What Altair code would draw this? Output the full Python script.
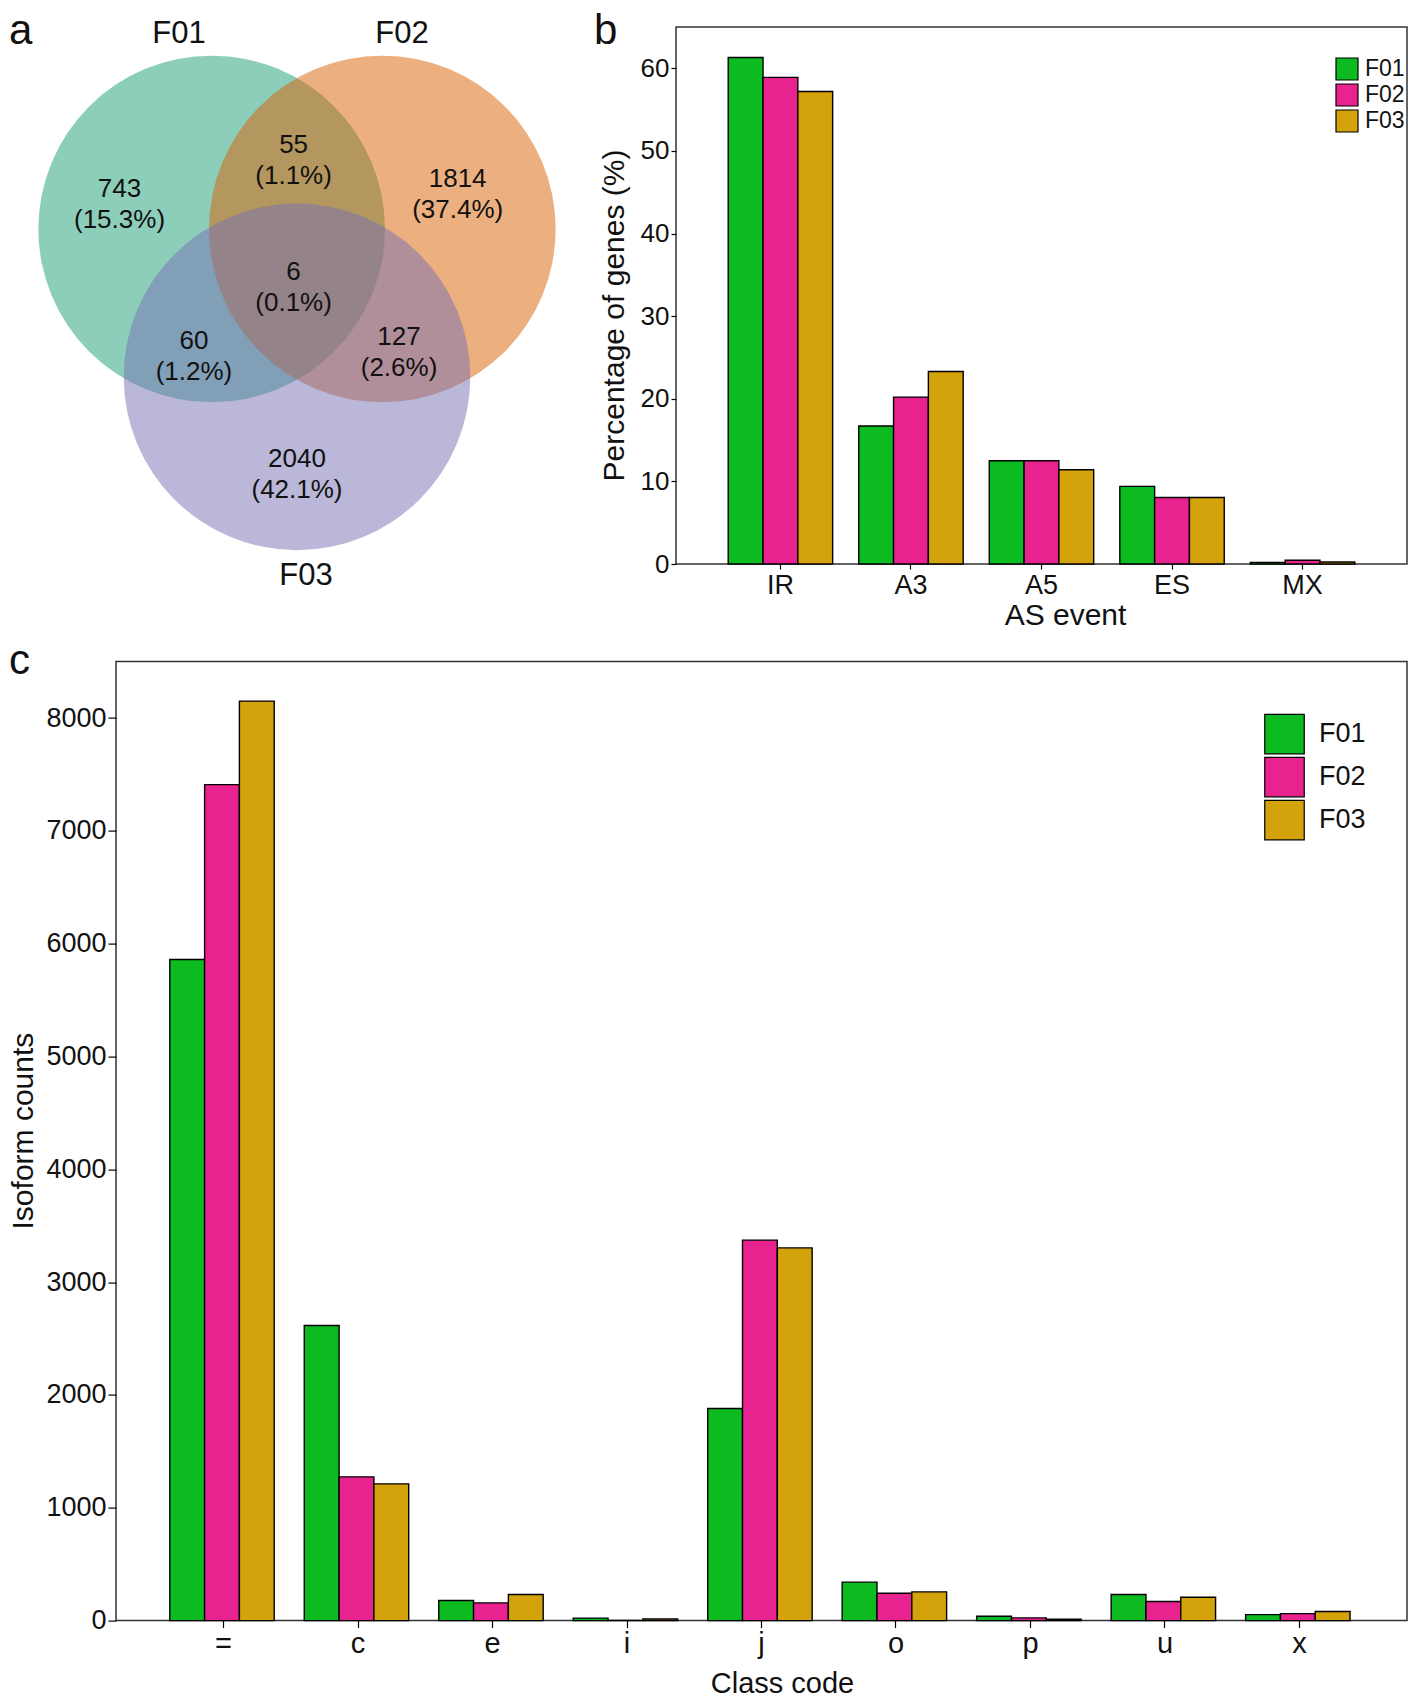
import altair as alt
import pandas as pd

FONT = "Liberation Sans"
INK = "#111111"

# ---------------- shared ----------------
samples = ["F01", "F02", "F03"]
sample_colors = ["#0bbb1f", "#e8238f", "#d4a20a"]

# ---------------- panel a (Venn) ----------------
venn_sets = ["F01", "F02", "F03"]
venn_colors = ["#1B9E77", "#D95F02", "#7570B3"]
venn_cx = [-0.502, 0.502, 0.0]
venn_cy = [0.0, 0.0, -0.87]
venn_name_x = [-0.694, 0.618, 0.053]
venn_name_y = [1.147, 1.147, -2.04]
region_counts = ["743", "55", "1814", "6", "60", "127", "2040"]
region_pct = ["(15.3%)", "(1.1%)", "(37.4%)", "(0.1%)", "(1.2%)", "(2.6%)", "(42.1%)"]
region_x = [-1.044, -0.02, 0.945, -0.02, -0.606, 0.60, 0.0]
region_y = [0.141, 0.40, 0.202, -0.347, -0.749, -0.724, -1.445]

# ---------------- panel b ----------------
as_events = ["IR", "A3", "A5", "ES", "MX"]
as_f01 = [61.3, 16.7, 12.5, 9.4, 0.2]
as_f02 = [58.9, 20.2, 12.5, 8.05, 0.45]
as_f03 = [57.2, 23.3, 11.4, 8.05, 0.25]

# ---------------- panel c ----------------
class_codes = ["=", "c", "e", "i", "j", "o", "p", "u", "x"]
cc_f01 = [5860, 2615, 178, 22, 1880, 341, 39, 231, 53]
cc_f02 = [7410, 1274, 157, 2, 3372, 243, 24, 169, 62]
cc_f03 = [8150, 1212, 231, 14, 3304, 255, 12, 207, 80]

# ---------------- build tables ----------------
venn_df = pd.DataFrame({"set": venn_sets, "cx": venn_cx, "cy": venn_cy,
                        "nx": venn_name_x, "ny": venn_name_y})
region_df = pd.DataFrame({"count": region_counts, "pct": region_pct,
                          "x": region_x, "y": region_y})

b_rows = []
for s, vals in zip(samples, [as_f01, as_f02, as_f03]):
    for e, v in zip(as_events, vals):
        b_rows.append({"event": e, "sample": s, "value": v})
b_df = pd.DataFrame(b_rows)

c_rows = []
for s, vals in zip(samples, [cc_f01, cc_f02, cc_f03]):
    for c, v in zip(class_codes, vals):
        c_rows.append({"code": c, "sample": s, "value": v})
c_df = pd.DataFrame(c_rows)

# ---------------- layout constants ----------------
VW, VH = 460, 537          # venn cell
BW, BH = 731, 537          # panel b plot
CW, CH = 1291, 959         # panel c plot
PX = 170.0                 # px per venn unit
R = 173.3                  # circle radius in px

vx0 = -1.0647
vy1 = 1.188
xs = alt.Scale(domain=[vx0, vx0 + VW / PX], nice=False, zero=False)
ys = alt.Scale(domain=[vy1 - VH / PX, vy1], nice=False, zero=False)

circles = alt.Chart(venn_df).mark_point(
    filled=True, shape="circle", opacity=0.5, strokeWidth=0, size=(2 * R) ** 2
).encode(
    x=alt.X("cx:Q", scale=xs, axis=None),
    y=alt.Y("cy:Q", scale=ys, axis=None),
    color=alt.Color("set:N", scale=alt.Scale(domain=venn_sets, range=venn_colors), legend=None),
)
count_txt = alt.Chart(region_df).mark_text(font=FONT, fontSize=26, dy=-15.5, color=INK).encode(
    x=alt.X("x:Q", scale=xs, axis=None), y=alt.Y("y:Q", scale=ys, axis=None), text="count:N")
pct_txt = alt.Chart(region_df).mark_text(font=FONT, fontSize=26, dy=15.5, color=INK).encode(
    x=alt.X("x:Q", scale=xs, axis=None), y=alt.Y("y:Q", scale=ys, axis=None), text="pct:N")
name_txt = alt.Chart(venn_df).mark_text(font=FONT, fontSize=31, color=INK).encode(
    x=alt.X("nx:Q", scale=xs, axis=None), y=alt.Y("ny:Q", scale=ys, axis=None), text="set:N")
letter_a = alt.Chart(pd.DataFrame({"t": ["a"]})).mark_text(
    font=FONT, fontSize=42, align="left", baseline="top", color=INK
).encode(x=alt.value(-107), y=alt.value(-16.4), text="t:N")

venn = alt.layer(circles, count_txt, pct_txt, name_txt, letter_a).properties(
    width=VW, height=VH, view=alt.ViewBackground(strokeOpacity=0))

# ---------------- panel b chart ----------------
bars_b = alt.Chart(b_df).mark_bar(stroke="black", strokeWidth=1.4).encode(
    x=alt.X("event:N", sort=as_events,
            scale=alt.Scale(paddingInner=0.2, paddingOuter=0.4),
            axis=alt.Axis(title="AS event", labelAngle=0, labelFontSize=27, labelPadding=3,
                          tickSize=5, tickWidth=1.2, titleFontSize=30, titlePadding=2,
                          titleX=389)),
    xOffset=alt.XOffset("sample:N", sort=samples),
    y=alt.Y("value:Q", scale=alt.Scale(domain=[0, 65], nice=False),
            axis=alt.Axis(title="Percentage of genes (%)", values=[0, 10, 20, 30, 40, 50, 60],
                          labelFontSize=26, labelPadding=2, tickSize=5, tickWidth=1.2,
                          titleFontSize=30, titlePadding=11, titleY=288)),
    color=alt.Color("sample:N", scale=alt.Scale(domain=samples, range=sample_colors),
                    legend=alt.Legend(orient="none", legendX=659, legendY=30, title=None,
                                      symbolType="square", symbolSize=484,
                                      symbolStrokeColor="black", symbolStrokeWidth=1.2,
                                      symbolOpacity=1, labelFontSize=23, labelOffset=6,
                                      rowPadding=-6, padding=0, labelFont=FONT,
                                      labelColor=INK)),
)
letter_b = alt.Chart(pd.DataFrame({"t": ["b"]})).mark_text(
    font=FONT, fontSize=42, align="left", baseline="top", color=INK
).encode(x=alt.value(-82), y=alt.value(-16.4), text="t:N")

chart_b = alt.layer(bars_b, letter_b).properties(
    width=BW, height=BH, view=alt.ViewBackground(stroke="#333333", strokeWidth=1.5))

# ---------------- panel c chart ----------------
bars_c = alt.Chart(c_df).mark_bar(stroke="black", strokeWidth=1.4).encode(
    x=alt.X("code:N", sort=class_codes,
            scale=alt.Scale(paddingInner=0.2, paddingOuter=0.4),
            axis=alt.Axis(title="Class code", labelAngle=0, labelFontSize=29, labelPadding=2,
                          tickSize=7, tickWidth=1.2, titleFontSize=29, titlePadding=11,
                          titleX=666)),
    xOffset=alt.XOffset("sample:N", sort=samples),
    y=alt.Y("value:Q", scale=alt.Scale(domain=[0, 8500], nice=False),
            axis=alt.Axis(title="Isoform counts", values=list(range(0, 8001, 1000)),
                          format="d", labelFontSize=27, labelPadding=2, tickSize=8,
                          tickWidth=1.2, titleFontSize=30, titlePadding=7, titleY=469)),
    color=alt.Color("sample:N", scale=alt.Scale(domain=samples, range=sample_colors),
                    legend=alt.Legend(orient="none", legendX=1148, legendY=52, title=None,
                                      symbolType="square", symbolSize=1560,
                                      symbolStrokeColor="black", symbolStrokeWidth=1.2,
                                      symbolOpacity=1, labelFontSize=27, labelOffset=14,
                                      rowPadding=-6, padding=0, labelFont=FONT,
                                      labelColor=INK)),
)
letter_c = alt.Chart(pd.DataFrame({"t": ["c"]})).mark_text(
    font=FONT, fontSize=42, align="left", baseline="top", color=INK
).encode(x=alt.value(-107), y=alt.value(-21), text="t:N")

chart_c = alt.layer(bars_c, letter_c).properties(
    width=CW, height=CH, view=alt.ViewBackground(stroke="#333333", strokeWidth=1.5))

# ---------------- compose ----------------
top = alt.hconcat(venn, chart_b, spacing=100, bounds="flush").resolve_scale(
    color="independent").resolve_legend(color="independent")

chart = alt.vconcat(top, chart_c, spacing=7.6).resolve_scale(
    color="independent").resolve_legend(color="independent").properties(
    padding=0
).configure(font=FONT).configure_axis(
    grid=False, domain=False, tickColor="black", labelColor=INK, titleColor=INK,
    labelFont=FONT, titleFont=FONT, titleFontWeight="normal"
).configure_view(strokeWidth=0)

chart.save("out.html", embed_options={"renderer": "svg", "actions": False})
